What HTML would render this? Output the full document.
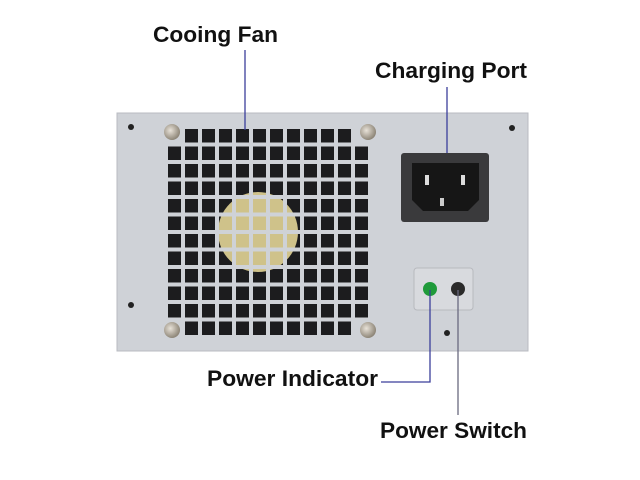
<!DOCTYPE html>
<html><head><meta charset="utf-8"><style>
html,body{margin:0;padding:0;background:#fff;width:640px;height:480px;overflow:hidden}
text{font-family:"Liberation Sans",Arial,sans-serif;font-weight:bold;fill:#111}
</style></head><body>
<svg width="640" height="480" viewBox="0 0 640 480" xmlns="http://www.w3.org/2000/svg">
<defs>
<pattern id="g" x="168" y="129" width="17" height="17.5" patternUnits="userSpaceOnUse">
<rect x="13" y="0" width="4" height="17.5" fill="#cfd2d7"/>
<rect x="0" y="13.5" width="17" height="4" fill="#cfd2d7"/>
</pattern>
<radialGradient id="sc" cx="0.4" cy="0.4" r="0.6"><stop offset="0" stop-color="#e8e2d8"/><stop offset="1" stop-color="#8e8678"/></radialGradient>
</defs>
<rect x="117" y="113" width="411" height="238" fill="#cfd2d7" stroke="#b8bbc2"/>
<rect x="168" y="129" width="200" height="206" fill="#1c1c1e"/>
<circle cx="258" cy="232" r="40" fill="#cfc28a"/>
<rect x="168" y="129" width="200" height="206" fill="url(#g)"/>
<rect x="160" y="122" width="25" height="22" fill="#cfd2d7"/>
<rect x="355" y="122" width="20" height="22" fill="#cfd2d7"/>
<rect x="160" y="320" width="25" height="22" fill="#cfd2d7"/>
<rect x="355" y="320" width="20" height="22" fill="#cfd2d7"/>
<circle cx="172" cy="132" r="8" fill="url(#sc)"/>
<circle cx="368" cy="132" r="8" fill="url(#sc)"/>
<circle cx="172" cy="330" r="8" fill="url(#sc)"/>
<circle cx="368" cy="330" r="8" fill="url(#sc)"/>
<circle cx="131" cy="127" r="3" fill="#222"/>
<circle cx="131" cy="305" r="3" fill="#222"/>
<circle cx="512" cy="128" r="3" fill="#222"/>
<circle cx="447" cy="333" r="3" fill="#222"/>
<rect x="401" y="153" width="88" height="69" rx="3" fill="#3a3a3c"/>
<path d="M412 163 H479 V200 L468 211 H423 L412 200 Z" fill="#161616"/>
<rect x="425" y="175" width="4" height="10" fill="#ddd"/>
<rect x="461" y="175" width="4" height="10" fill="#ddd"/>
<rect x="440" y="198" width="4" height="8" fill="#ccc"/>
<rect x="414" y="268" width="59" height="42" rx="3" fill="#d8dade" stroke="#b7b9be"/>
<circle cx="430" cy="289" r="7" fill="#1f9a3a"/>
<circle cx="458" cy="289" r="7" fill="#2a2a2a"/>
<g stroke="#3b3f9a" stroke-width="1.3" fill="none">
<line x1="245" y1="50" x2="245" y2="130"/>
<line x1="447" y1="87" x2="447" y2="153"/>
<polyline points="430,290 430,382 381,382"/>
<line x1="458" y1="290" x2="458" y2="415" stroke="#6a6a80"/>
</g>
<text x="153" y="42" font-size="22.5" textLength="125" lengthAdjust="spacingAndGlyphs">Cooing Fan</text>
<text x="375" y="78" font-size="22.5" textLength="152" lengthAdjust="spacingAndGlyphs">Charging Port</text>
<text x="207" y="386" font-size="22.5" textLength="171" lengthAdjust="spacingAndGlyphs">Power Indicator</text>
<text x="380" y="438" font-size="22.5" textLength="147" lengthAdjust="spacingAndGlyphs">Power Switch</text>
</svg>
</body></html>
